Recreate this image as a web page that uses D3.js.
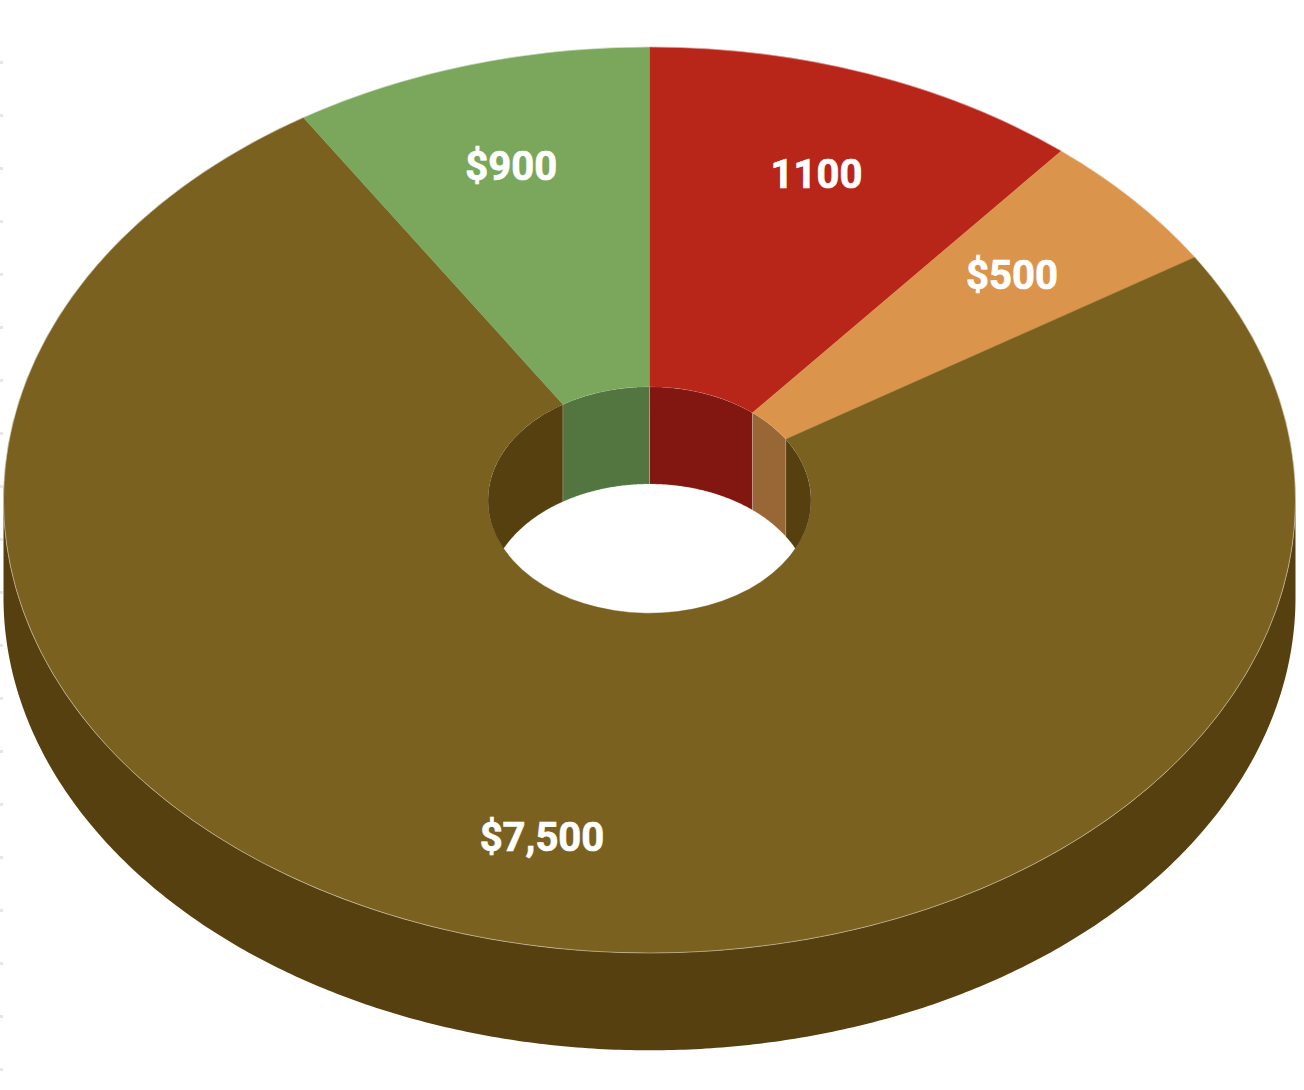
<!DOCTYPE html>
<html>
<head>
<meta charset="utf-8">
<script src="https://cdn.jsdelivr.net/npm/d3@7"></script>
<style>
html,body{margin:0;padding:0;background:#fff;overflow:hidden}
svg{display:block}
text{font-family:Roboto,sans-serif;font-weight:700;fill:#fff;stroke:#fff;stroke-width:0.7px}
</style>
</head>
<body>
<svg id="chart" width="1304" height="1090"></svg>
<script>
const categories = ["A", "B", "C", "D"];
const values = [1100, 500, 7500, 900];
const labels = ["1100", "$500", "$7,500", "$900"];
const topColors = ["#b8261a", "#da944c", "#7b611f", "#7ba75d"];
const wallColors = ["#821712", "#996736", "#574010", "#53753f"];
const tickIndex = d3.range(20);

const W = 1304, H = 1090;
const cx = 649.5, cy = 500, rx = 646, ry = 453, depth = 97.3, holeRatio = 0.25;
const labelRadius = [0.763, 0.748, 0.763, 0.767];

const svg = d3.select("#chart");
const x = d3.scaleLinear().domain([-1, 1]).range([cx - rx, cx + rx]);
const y = d3.scaleLinear().domain([-1, 1]).range([cy - ry, cy + ry]);
const tickY = d3.scaleLinear().domain([0, 19]).range([62.5, 1069.5]);

svg.append("g").selectAll("rect").data(tickIndex).join("rect")
  .attr("x", 0).attr("width", 3)
  .attr("y", d => tickY(d) - 1.5).attr("height", 3)
  .attr("fill", "#e6e6e6");

const slices = d3.pie().sort(null).value(d => d)(values)
  .map((s, i) => ({...s, i}));

const px = (r, a) => x(r * Math.sin(a));
const py = (r, a) => y(-r * Math.cos(a));

// band of a wall between two angles at radius r, extruded downward
function wall(r, a0, a1) {
  const n = Math.max(2, Math.ceil((a1 - a0) * 120));
  const pts = d3.range(n + 1).map(k => a0 + (a1 - a0) * k / n);
  return d3.area().x(a => px(r, a)).y0(a => py(r, a)).y1(a => py(r, a) + depth)(pts);
}
// intersect a slice with the angular window that faces the viewer
function overlap(s, lo, hi) {
  const a0 = Math.max(s.startAngle, lo), a1 = Math.min(s.endAngle, hi);
  return a1 > a0 ? [a0, a1] : null;
}
const PI = Math.PI;

// outer wall: lower half of the rim
const outer = svg.append("g");
slices.forEach(s => {
  const o = overlap(s, PI / 2, 3 * PI / 2);
  if (o) outer.append("path").attr("d", wall(1, o[0], o[1]))
    .attr("fill", wallColors[s.i]);
});

// top face
const scaleY = ry / rx;
const arc = d3.arc().innerRadius(rx * holeRatio).outerRadius(rx);
const face = svg.append("g")
  .attr("transform", `translate(${cx},${cy}) scale(1,${scaleY})`);
face.selectAll("path").data(slices).join("path")
  .attr("d", arc)
  .attr("fill", d => topColors[d.i])
  .attr("stroke", d => topColors[d.i])
  .attr("stroke-width", 0.4)
  .attr("vector-effect", "non-scaling-stroke");
// thin light rim of the top face
face.append("path")
  .attr("d", d3.arc().innerRadius(rx).outerRadius(rx).startAngle(0).endAngle(2 * PI)())
  .attr("fill", "none")
  .attr("stroke", "#fff").attr("stroke-opacity", 0.25)
  .attr("stroke-width", 0.8)
  .attr("vector-effect", "non-scaling-stroke");

// inner wall: back half of the hole, seen through it
const defs = svg.append("defs");
const holePts = d3.range(0, 2 * PI, 0.01);
defs.append("clipPath").attr("id", "hole").append("path")
  .attr("d", d3.line().x(a => px(holeRatio, a)).y(a => py(holeRatio, a)).curve(d3.curveLinearClosed)(holePts));
const inner = svg.append("g").attr("clip-path", "url(#hole)");
slices.forEach(s => {
  [[0, PI / 2], [3 * PI / 2, 2 * PI]].forEach(w => {
    const o = overlap(s, w[0], w[1]);
    if (o) inner.append("path").attr("d", wall(holeRatio, o[0], o[1]))
      .attr("fill", wallColors[s.i])
      .attr("stroke", "#fff").attr("stroke-opacity", 0.25).attr("stroke-width", 0.7);
  });
});

// labels
svg.append("g").selectAll("text").data(slices).join("text")
  .attr("x", d => px(labelRadius[d.i], (d.startAngle + d.endAngle) / 2))
  .attr("y", d => py(labelRadius[d.i], (d.startAngle + d.endAngle) / 2))
  .attr("text-anchor", "middle")
  .attr("dominant-baseline", "central")
  .attr("font-size", 40)
  .text(d => labels[d.i]);
</script>
</body>
</html>
